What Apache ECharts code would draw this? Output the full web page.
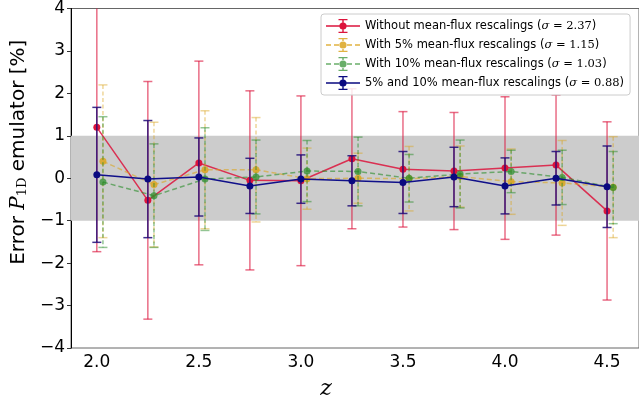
<!DOCTYPE html>
<html>
<head>
<meta charset="utf-8">
<script src="https://cdn.jsdelivr.net/npm/echarts@6/dist/echarts.min.js"></script>
<style>
html,body{margin:0;padding:0;background:#fff;}
#chart{width:639px;height:405px;}
</style>
</head>
<body>
<div id="chart"></div>
<script>
// ---- data ----
const zValues = [2.0, 2.25, 2.5, 2.75, 3.0, 3.25, 3.5, 3.75, 4.0, 4.25, 4.5];
const xTicks = [2.0, 2.5, 3.0, 3.5, 4.0, 4.5];
const yTicks = [-4, -3, -2, -1, 0, 1, 2, 3, 4];

const seriesNames = [
  'Without mean-flux rescalings',
  'With 5% mean-flux rescalings',
  'With 10% mean-flux rescalings',
  '5% and 10% mean-flux rescalings'
];
const sigmaLabels = ['2.37', '1.15', '1.03', '0.88'];

const noRescaleVal = [1.20, -0.52, 0.36, -0.05, -0.06, 0.46, 0.21, 0.17, 0.24, 0.31, -0.77];
const noRescaleErr = [2.93, 2.80, 2.40, 2.11, 2.00, 1.65, 1.36, 1.38, 1.68, 1.65, 2.10];

const rescale5Val = [0.40, -0.15, 0.20, 0.20, -0.01, 0.00, -0.01, 0.04, -0.08, -0.11, -0.21];
const rescale5Err = [1.80, 1.47, 1.39, 1.23, 0.72, 0.59, 0.76, 0.72, 0.77, 1.00, 1.19];

const rescale10Val = [-0.09, -0.41, -0.02, 0.03, 0.17, 0.16, 0.00, 0.10, 0.16, 0.02, -0.22];
const rescale10Err = [1.54, 1.22, 1.21, 0.87, 0.72, 0.81, 0.56, 0.80, 0.50, 0.64, 0.85];

const rescaleBothVal = [0.08, -0.02, 0.03, -0.18, -0.02, -0.06, -0.10, 0.03, -0.18, 0.00, -0.20];
const rescaleBothErr = [1.59, 1.38, 0.92, 0.65, 0.57, 0.59, 0.73, 0.70, 0.66, 0.63, 0.96];

const bandLow = -1, bandHigh = 1;

// ---- styling ----
const DODGE = 0.03;
const styles = [
  {marker:'#dc143c', line:'rgba(220,20,60,0.85)', err:'rgba(220,20,60,0.62)', dashed:false, dodge:0},
  {marker:'rgba(218,165,32,0.85)', line:'rgba(218,165,32,0.6)', err:'rgba(218,165,32,0.45)', dashed:true, dodge:DODGE},
  {marker:'rgba(40,140,40,0.7)', line:'rgba(40,140,40,0.6)', err:'rgba(40,140,40,0.5)', dashed:true, dodge:DODGE},
  {marker:'#0a0a80', line:'#10108a', err:'rgba(30,10,120,0.85)', dashed:false, dodge:0}
];
const vals = [noRescaleVal, rescale5Val, rescale10Val, rescaleBothVal];
const errs = [noRescaleErr, rescale5Err, rescale10Err, rescaleBothErr];

const solidIcon = 'path://M0,6.3H34V7.7H0Z M16.3,0H17.7V14H16.3Z M12.5,0H21.5V1.3H12.5Z M12.5,12.7H21.5V14H12.5Z M17,3.4A3.6,3.6 0 1 1 17,10.6A3.6,3.6 0 1 1 17,3.4Z';
const dashIcon = 'path://M0,6.3H5V7.7H0Z M8,6.3H13V7.7H8Z M21,6.3H26V7.7H21Z M29,6.3H34V7.7H29Z M16.3,0H17.7V3H16.3Z M16.3,11H17.7V14H16.3Z M12.5,0H21.5V1.3H12.5Z M12.5,12.7H21.5V14H12.5Z M17,3.4A3.6,3.6 0 1 1 17,10.6A3.6,3.6 0 1 1 17,3.4Z';

function errRenderer(st) {
  return function (params, api) {
    const x = api.value(0), v = api.value(1), e = api.value(2);
    const cs = params.coordSys;
    const top = api.coord([x, v + e]);
    const bot = api.coord([x, v - e]);
    const y0 = Math.max(top[1], cs.y);
    const y1 = Math.min(bot[1], cs.y + cs.height);
    const children = [{
      type: 'line',
      shape: {x1: top[0], y1: y0, x2: top[0], y2: y1},
      style: {stroke: st.err, lineWidth: 1.5, lineDash: st.dashed ? [4, 2.5] : null}
    }];
    const hw = 4.5;
    if (top[1] >= cs.y) {
      children.push({type: 'line', shape: {x1: top[0] - hw, y1: top[1], x2: top[0] + hw, y2: top[1]},
        style: {stroke: st.err, lineWidth: 1.5}});
    }
    if (bot[1] <= cs.y + cs.height) {
      children.push({type: 'line', shape: {x1: bot[0] - hw, y1: bot[1], x2: bot[0] + hw, y2: bot[1]},
        style: {stroke: st.err, lineWidth: 1.5}});
    }
    return {type: 'group', children: children};
  };
}

const series = [];
// gray band
series.push({
  type: 'line', name: 'band', data: [], silent: true,
  markArea: {silent: true, itemStyle: {color: '#cccccc'},
    data: [[{yAxis: bandLow}, {yAxis: bandHigh}]]}
});
for (let k = 0; k < 4; k++) {
  const st = styles[k];
  series.push({
    type: 'custom', name: seriesNames[k] + ' err', renderItem: errRenderer(st),
    data: zValues.map((z, i) => [z + st.dodge, vals[k][i], errs[k][i]]),
    encode: {x: 0, y: 1}, silent: true, z: 2 + k
  });
  series.push({
    type: 'line', name: seriesNames[k],
    data: zValues.map((z, i) => [z + st.dodge, vals[k][i]]),
    symbol: 'circle', symbolSize: 7, showSymbol: true,
    itemStyle: {color: st.marker},
    lineStyle: {color: st.line, width: 1.5, type: st.dashed ? [5, 3] : 'solid'},
    silent: true, z: 2 + k
  });
}

const chart = echarts.init(document.getElementById('chart'), null, {renderer: 'canvas'});
chart.setOption({
  animation: false,
  backgroundColor: '#fff',
  grid: {left: 71, top: 7, right: -3, bottom: 57, show: true, borderColor: '#666', borderWidth: 1, backgroundColor: 'transparent'},
  legend: {
    orient: 'vertical', left: 321, top: 14,
    padding: [5, 6, 5, 5],
    itemWidth: 34, itemHeight: 14, itemGap: 5,
    backgroundColor: 'rgba(255,255,255,0.85)', borderColor: '#cccccc', borderWidth: 1, borderRadius: 3,
    data: seriesNames.map((n, k) => ({name: n, icon: styles[k].dashed ? dashIcon : solidIcon})),
    formatter: function (name) {
      const k = seriesNames.indexOf(name);
      return name + ' ({s|σ}{n| = ' + sigmaLabels[k] + '})';
    },
    textStyle: {
      fontFamily: 'DejaVu Sans', fontSize: 11.5, color: '#000',
      rich: {
        s: {fontFamily: 'DejaVu Serif', fontStyle: 'italic', fontSize: 11.5, color: '#000'},
        n: {fontFamily: 'DejaVu Serif', fontSize: 11.5, color: '#000'}
      }
    },
    selectedMode: false
  },
  xAxis: {
    type: 'value', min: 1.8735, max: 4.6565,
    axisLine: {show: true, lineStyle: {color: '#444', width: 1}},
    axisTick: {show: true, customValues: xTicks, length: 4, lineStyle: {color: '#444'}},
    axisLabel: {customValues: xTicks, formatter: v => v.toFixed(1), fontFamily: 'DejaVu Sans', fontSize: 17, color: '#000', margin: 6},
    splitLine: {show: false},
    name: 'z', nameLocation: 'middle', nameGap: 30,
    nameTextStyle: {fontFamily: 'DejaVu Serif', fontStyle: 'italic', fontSize: 22, color: '#000', padding: [0, 58, 0, 0]}
  },
  yAxis: {
    type: 'value', min: -4, max: 4, interval: 1,
    axisLine: {show: true, lineStyle: {color: '#000', width: 1}},
    axisTick: {show: true, length: 4, lineStyle: {color: '#333'}},
    axisLabel: {formatter: v => (v < 0 ? '\u2212' + Math.abs(v) : String(v)), fontFamily: 'DejaVu Sans', fontSize: 17, color: '#000', margin: 6},
    splitLine: {show: false},
    name: 'Error {p|P}{s|1D} emulator [%]', nameLocation: 'middle', nameGap: 40,
    nameTextStyle: {
      fontFamily: 'DejaVu Sans', fontSize: 20, color: '#000', padding: [0, 0, 0, 52],
      rich: {
        p: {fontFamily: 'DejaVu Serif', fontStyle: 'italic', fontSize: 20, color: '#000'},
        s: {fontFamily: 'DejaVu Serif', fontSize: 13, color: '#000', padding: [8, 0, 0, 0]}
      }
    }
  },
  series: series
});
</script>
</body>
</html>
